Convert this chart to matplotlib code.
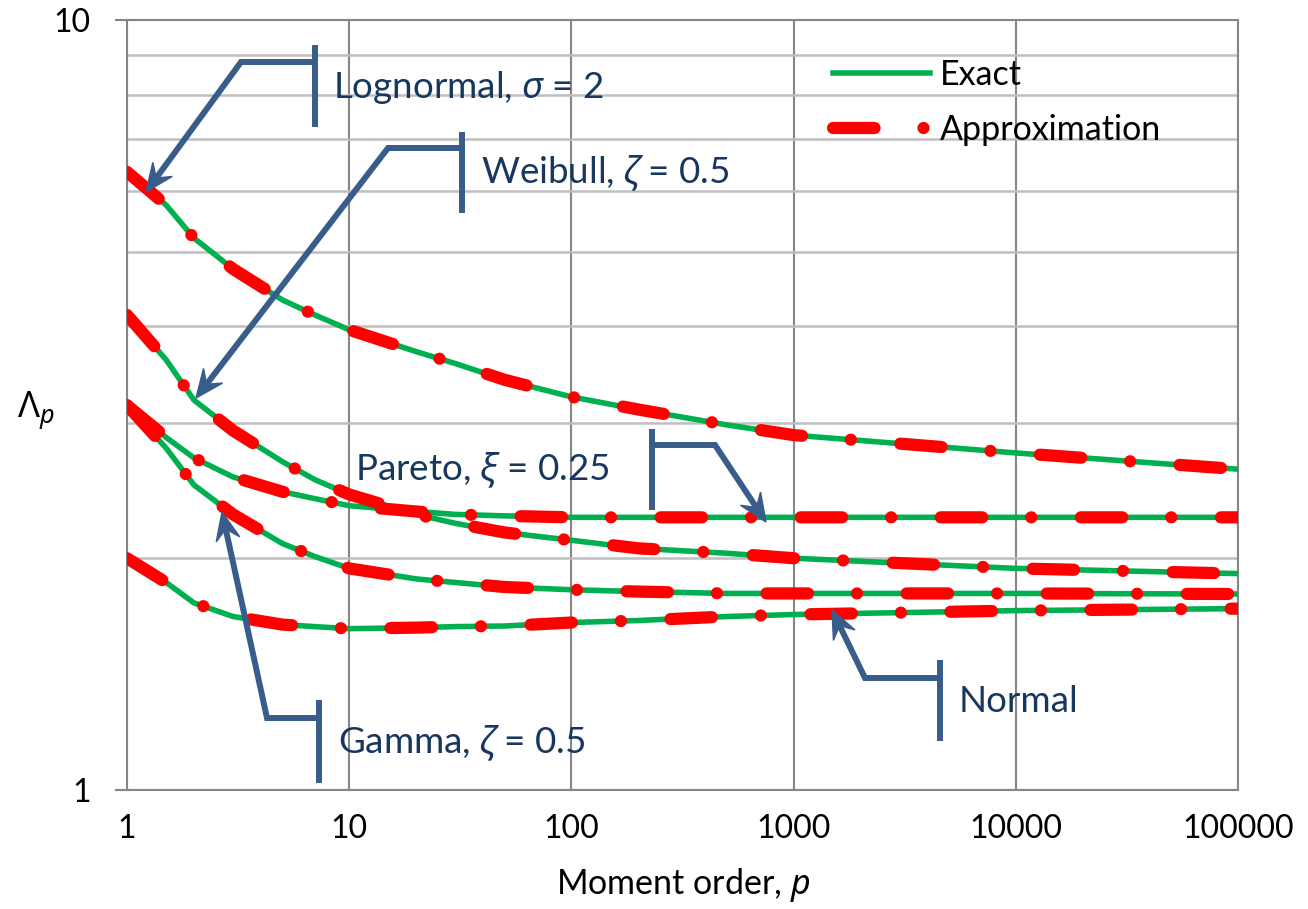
import numpy as np
import matplotlib
matplotlib.use("Agg")
import matplotlib.pyplot as plt
from matplotlib.lines import Line2D
from matplotlib.patches import Polygon

plt.rcParams['font.family'] = ['Lato', 'DejaVu Sans']
plt.rcParams['mathtext.fontset'] = 'custom'
plt.rcParams['mathtext.it'] = 'Noto Sans:italic'
plt.rcParams['mathtext.rm'] = 'Noto Sans'

# moment order p and Lambda_p
p = [1, 1.5, 2, 3, 5, 7, 10, 20, 30, 50, 100, 200, 500, 1000, 10000, 100000]
lognormal = [6.35, 5.75, 5.21, 4.75, 4.33, 4.14, 3.96, 3.71, 3.58, 3.41, 3.24, 3.12, 2.98, 2.89, 2.74, 2.61]
weibull = [4.14, 3.62, 3.21, 2.93, 2.67, 2.53, 2.42, 2.28, 2.22, 2.16, 2.11, 2.06, 2.03, 2.00, 1.94, 1.91]
pareto = [3.16, 2.87, 2.70, 2.55, 2.44, 2.39, 2.34, 2.30, 2.28, 2.27, 2.26, 2.26, 2.26, 2.26, 2.26, 2.26]
gamma = [3.16, 2.78, 2.49, 2.28, 2.09, 2.01, 1.94, 1.88, 1.86, 1.835, 1.82, 1.81, 1.80, 1.80, 1.80, 1.797]
normal = [2.00, 1.86, 1.75, 1.68, 1.64, 1.63, 1.62, 1.625, 1.63, 1.633, 1.65, 1.66, 1.68, 1.69, 1.71, 1.72]
series = [lognormal, weibull, pareto, gamma, normal]

x_ticks = [1, 10, 100, 1000, 10000, 100000]
x_labels = ['1', '10', '100', '1000', '10000', '100000']
y_ticks = [1, 10]
y_labels = ['1', '10']

GREEN = '#00B050'
RED = '#FF0000'
BLUE = '#385D8A'
NAVY = '#17375E'
W, H = 1308, 909

fig = plt.figure(figsize=(W / 100, H / 100), dpi=100)
ax = fig.add_axes([127 / W, 1 - 790 / H, (1238 - 127) / W, (790 - 20) / H])
ax.set_xscale('log')
ax.set_yscale('log')
ax.set_xlim(1, 100000)
ax.set_ylim(1, 10)

approx_style = (0, (3.4, 4.0, 0.01, 4.05))
for vals in series:
    ax.plot(p, vals, color=GREEN, lw=4, zorder=3, solid_capstyle='butt')
    ax.plot(p, vals, color=RED, lw=8.8, linestyle=approx_style,
            dash_capstyle='round', zorder=4)

ax.set_xticks(x_ticks)
ax.set_xticklabels(x_labels)
ax.set_yticks(y_ticks)
ax.set_yticklabels(y_labels)
ax.set_yticks([2, 3, 4, 5, 6, 7, 8, 9], minor=True)
ax.set_yticklabels([], minor=True)
ax.set_xticks([], minor=True)
ax.tick_params(axis='both', which='major', labelsize=23, color='#868686', width=1.5)
ax.tick_params(axis='y', which='major', length=9, pad=17)
ax.tick_params(axis='x', which='major', length=0, pad=17)
ax.tick_params(axis='y', which='minor', length=0)
ax.grid(True, axis='x', which='major', color='#868686', lw=1.5)
ax.grid(True, axis='y', which='minor', color='#BFBFBF', lw=1.8)
ax.grid(True, axis='y', which='major', color='#868686', lw=1.5)
for s in ax.spines.values():
    s.set_color('#868686')
    s.set_linewidth(1.5)

fig.text(683 / W, 1 - 885 / H, 'Moment order, $\\mathit{p}$', ha='center', va='center', fontsize=24.5)
fig.text(17 / W, 1 - 410 / H, '$\\mathit{Λ}_{\\mathit{p}}$', ha='left', va='center', fontsize=26)

# legend
leg_handles = [
    Line2D([], [], color=GREEN, lw=4),
    Line2D([], [], color=RED, lw=8.8, linestyle=approx_style, dash_capstyle='round'),
]
ax.legend(leg_handles, ['Exact', 'Approximation'], frameon=False, fontsize=24.5,
          handlelength=2.85, handletextpad=0.3, labelspacing=0.69,
          loc='upper left', bbox_to_anchor=(802 / W, 1 - 28 / H),
          bbox_transform=fig.transFigure)


def fxy(x, y):
    return x / W, 1 - y / H


def callout(bar_x, bar_y0, bar_y1, path, text, tx, ty, ha='left'):
    # vertical bar
    xs, ys = zip(fxy(bar_x, bar_y0), fxy(bar_x, bar_y1))
    fig.add_artist(Line2D(xs, ys, color=BLUE, lw=4.3, transform=fig.transFigure, zorder=10))
    # leader with stealth arrow head at the last point
    tip = np.array(path[-1], float)
    prev = np.array(path[-2], float)
    d = (tip - prev) / np.hypot(*(tip - prev))
    n = np.array([-d[1], d[0]])
    L, w = 28, 12
    notch = tip - 0.62 * L * d
    pts = [tip, tip - L * d + w * n, notch, tip - L * d - w * n]
    line = list(path[:-1]) + [tuple(notch)]
    xs, ys = zip(*[fxy(*q) for q in line])
    fig.add_artist(Line2D(xs, ys, color=BLUE, lw=4.3, transform=fig.transFigure,
                          zorder=10, solid_joinstyle='miter'))
    fig.add_artist(Polygon([fxy(*q) for q in pts], closed=True, color=BLUE,
                           transform=fig.transFigure, zorder=10))
    fig.text(*fxy(tx, ty), text, ha=ha, va='center', fontsize=26.5, color=NAVY, zorder=11)


callout(315, 48, 124, [(315, 62), (241, 62), (146, 192)],
        'Lognormal, $\\mathit{σ}$ = 2', 333, 88)
callout(462, 135, 210, [(462, 148), (388, 148), (196, 398)],
        'Weibull, $\\mathit{ζ}$ = 0.5', 481, 173)
callout(652, 432, 507, [(652, 445), (715, 445), (766, 522)],
        'Pareto, $\\mathit{ξ}$ = 0.25', 609, 470, ha='right')
callout(319, 703, 780, [(319, 718), (267, 718), (222, 512)],
        'Gamma, $\\mathit{ζ}$ = 0.5', 338, 743)
callout(940, 663, 738, [(940, 678), (865, 678), (832, 610)],
        'Normal', 959, 702)

fig.savefig('out.png', dpi=100)
